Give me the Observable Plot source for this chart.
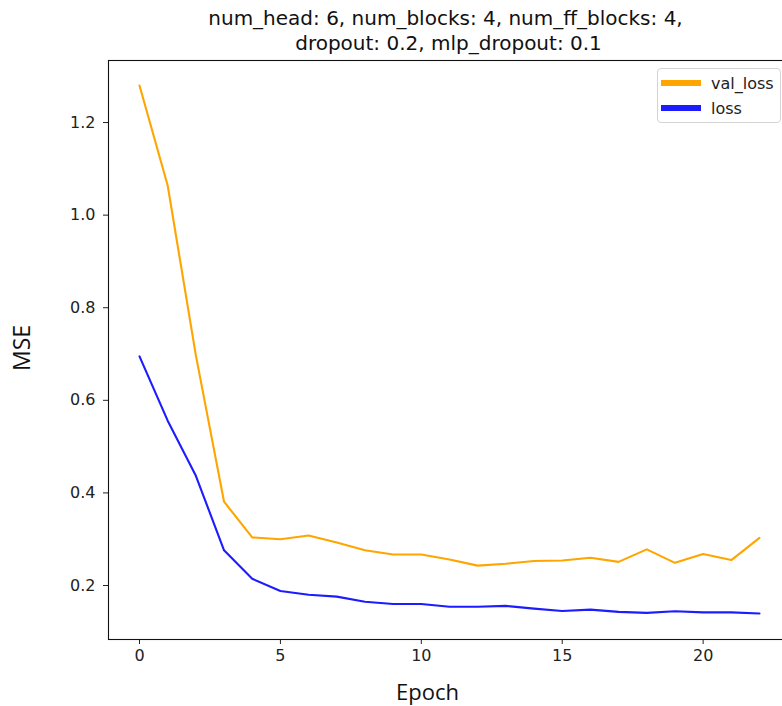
<!DOCTYPE html>
<html>
<head>
<meta charset="utf-8">
<script src="https://cdn.jsdelivr.net/npm/d3@7"></script>
<script src="https://cdn.jsdelivr.net/npm/@observablehq/plot@0.6"></script>
<style>
  html, body { margin: 0; padding: 0; background: #fff; overflow: hidden; }
  #wrap { position: relative; width: 782px; height: 706px; }
  #legend {
    position: absolute; left: 657px; top: 68px; width: 124px; height: 55px;
    border: 1px solid #d4d4d4; border-radius: 4px; background: rgba(255,255,255,0.85);
    font-family: "DejaVu Sans", sans-serif; font-size: 16px; color: #222;
    box-sizing: border-box;
  }
  .item { position: absolute; left: 3px; display: flex; align-items: center; height: 20px; }
  .swatch { width: 40px; height: 5.5px; margin-right: 10px; }
</style>
</head>
<body>
<div id="wrap">
  <div id="chart"></div>
  <div id="legend"></div>
</div>
<script>
const epochs = [0,1,2,3,4,5,6,7,8,9,10,11,12,13,14,15,16,17,18,19,20,21,22];
const valLoss = [1.280,1.064,0.697,0.381,0.304,0.300,0.308,0.293,0.276,0.267,0.267,0.256,0.243,0.247,0.253,0.254,0.260,0.251,0.278,0.249,0.268,0.255,0.303];
const loss = [0.695,0.556,0.437,0.276,0.2145,0.188,0.180,0.176,0.165,0.160,0.160,0.154,0.154,0.156,0.150,0.145,0.148,0.143,0.141,0.1445,0.142,0.142,0.1395];
const seriesNames = ["val_loss", "loss"];
const seriesColors = ["#ffa500", "#1c1cff"];
const xTicks = [0, 5, 10, 15, 20];
const yTicks = [0.2, 0.4, 0.6, 0.8, 1.0, 1.2];
const titleLines = ["num_head: 6, num_blocks: 4, num_ff_blocks: 4,", "dropout: 0.2, mlp_dropout: 0.1"];
const xLabel = "Epoch";
const yLabel = "MSE";

const rows = [];
epochs.forEach((e, i) => {
  rows.push({epoch: e, value: valLoss[i], series: "val_loss"});
});
epochs.forEach((e, i) => {
  rows.push({epoch: e, value: loss[i], series: "loss"});
});

const chart = Plot.plot({
  width: 782,
  height: 706,
  marginLeft: 108,
  marginTop: 60,
  marginBottom: 67,
  marginRight: -8,
  style: {fontFamily: "DejaVu Sans, sans-serif", fontSize: "16px", color: "#222", background: "white", overflow: "visible"},
  x: {domain: [-1.1, 23.1], ticks: xTicks, tickFormat: d3.format("d"), tickSize: 5, tickPadding: 5, label: null},
  y: {domain: [0.0834, 1.334], ticks: yTicks, tickFormat: d3.format(".1f"), tickSize: 5, tickPadding: 8, label: null},
  color: {domain: seriesNames, range: seriesColors},
  marks: [
    Plot.line(rows, {x: "epoch", y: "value", z: "series", stroke: "series", strokeWidth: 2.1, strokeLinejoin: "round"}),
    Plot.frame({stroke: "#111", strokeWidth: 1.1}),
    Plot.text([titleLines[0]], {text: d => d, frameAnchor: "top", dy: -42, dx: -4, fontSize: 20, lineAnchor: "middle", fill: "#111"}),
    Plot.text([titleLines[1]], {text: d => d, frameAnchor: "top", dy: -17, dx: -1, fontSize: 20, lineAnchor: "middle", fill: "#111"}),
    Plot.text([xLabel], {text: d => d, frameAnchor: "bottom", dy: 53, dx: -22, fontSize: 22, fontFamily: "Open Sans, sans-serif", lineAnchor: "middle", textAnchor: "middle", fill: "#111"}),
    Plot.text([yLabel], {text: d => d, frameAnchor: "left", dx: -86, dy: -2, rotate: -90, fontSize: 23, fontFamily: "Open Sans, sans-serif", lineAnchor: "middle", textAnchor: "middle", fill: "#111"})
  ]
});
document.getElementById("chart").appendChild(chart);

const legend = document.getElementById("legend");
seriesNames.forEach((name, i) => {
  const item = document.createElement("div");
  item.className = "item";
  item.style.top = (4 + i * 25) + "px";
  const sw = document.createElement("div");
  sw.className = "swatch";
  sw.style.background = seriesColors[i];
  const label = document.createElement("span");
  label.textContent = name;
  item.appendChild(sw);
  item.appendChild(label);
  legend.appendChild(item);
});
</script>
</body>
</html>
